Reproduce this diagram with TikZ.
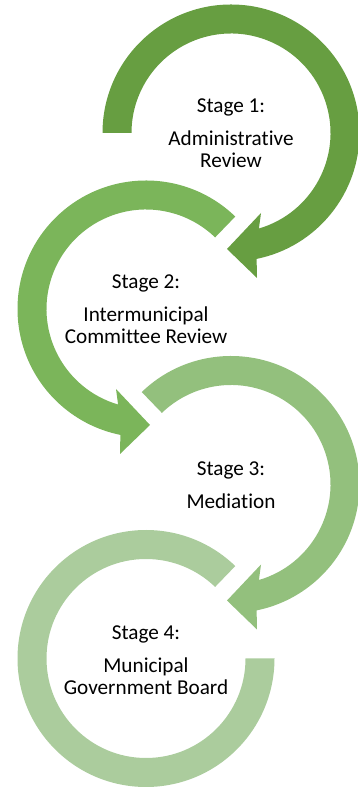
\documentclass[tikz,border=0pt]{standalone}
\usepackage{fontspec}
\setmainfont[Ligatures=NoCommon]{Carlito}
\definecolor{stageone}{RGB}{103,158,65}
\definecolor{stagetwo}{RGB}{123,181,90}
\definecolor{stagethree}{RGB}{147,192,125}
\definecolor{stagefour}{RGB}{171,204,157}
\newcommand{\ringout}{128.5}
\newcommand{\ringin}{99.5}

\begin{document}
\begin{tikzpicture}[x=1pt,y=1pt,
stage text/.style={align=center,anchor=north,inner sep=0pt,font=\fontsize{21.2}{22}\selectfont}]

\useasboundingbox (0,0) rectangle (358,789);

% stage 1, clockwise
\begin{scope}[shift={(231,656)}]
\fill[stageone] (180:\ringout) arc[start angle=180,end angle=-78.5,radius=\ringout]
  -- (26,-145) -- (-4,-116) -- (30,-80) -- (-73.7:\ringin)
  arc[start angle=-73.7,end angle=180,radius=\ringin] -- cycle;
\end{scope}

% stage 2, counter clockwise
\begin{scope}[shift={(146,480)}]
\fill[stagetwo] (46:\ringout) arc[start angle=46,end angle=258.5,radius=\ringout]
  -- (-26,-145) -- (4,-116) -- (-30,-80) -- (253.7:\ringin)
  arc[start angle=253.7,end angle=46,radius=\ringin] -- cycle;
\end{scope}

% stage 3, clockwise
\begin{scope}[shift={(231,304.5)}]
\fill[stagethree] (134:\ringout) arc[start angle=134,end angle=-78.5,radius=\ringout]
  -- (26,-145) -- (-4,-116) -- (30,-80) -- (-73.7:\ringin)
  arc[start angle=-73.7,end angle=134,radius=\ringin] -- cycle;
\end{scope}

% stage 4, no head
\begin{scope}[shift={(146,130.5)}]
\fill[stagefour] (46:\ringout) arc[start angle=46,end angle=360,radius=\ringout]
  -- (0:\ringin) arc[start angle=360,end angle=46,radius=\ringin] -- cycle;
\end{scope}

\node[stage text] (1) at (231,690) {Stage 1:\\[11pt] Administrative\\ Review};
\node[stage text] (2) at (146,514) {Stage 2:\\[11pt] Intermunicipal\\ Committee Review};
\node[stage text] (3) at (231,327) {Stage 3:\\[11pt] Mediation};
\node[stage text] (4) at (146,163) {Stage 4:\\[11pt] Municipal\\ Government Board};

\end{tikzpicture}
\end{document}
